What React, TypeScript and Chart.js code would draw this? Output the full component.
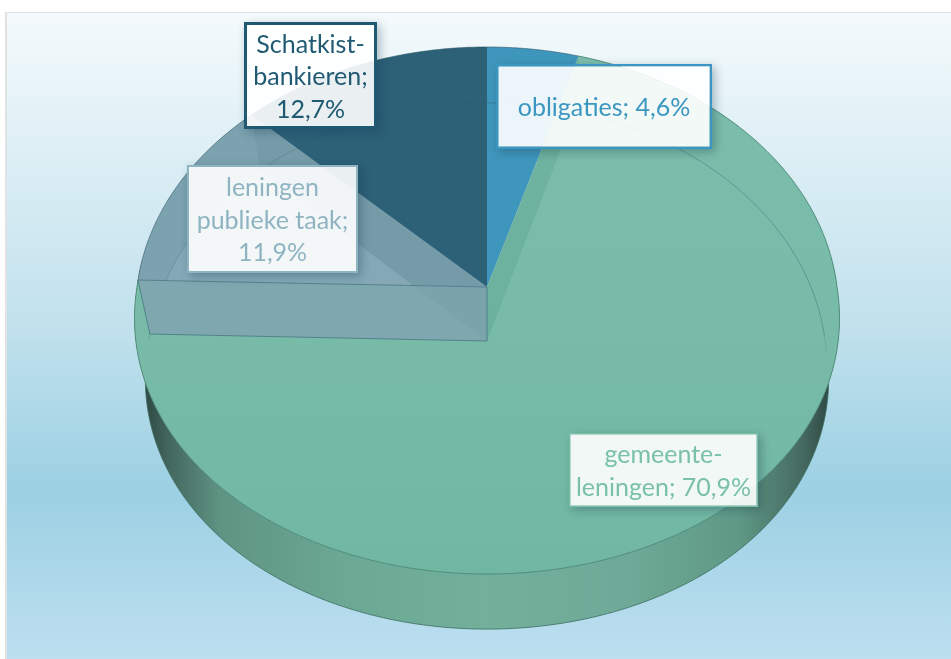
import React, { useEffect, useRef } from "react";
import { Chart, registerables } from "chart.js";

Chart.register(...registerables);

const categories = ["obligaties", "gemeenteleningen", "leningen publieke taak", "Schatkistbankieren"];
const values = [4.6, 70.9, 11.9, 12.7];
const sliceColors = ["#3f96bc", "#79bba8", "#7ca1af", "#2c6178"];
const labelLines = [
  ["obligaties; 4,6%"],
  ["gemeente-", "leningen; 70,9%"],
  ["leningen", "publieke taak;", "11,9%"],
  ["Schatkist-", "bankieren;", "12,7%"],
];
const labelColors = ["#3b97c1", "#7ac0aa", "#8fb4c1", "#1f5a72"];
const labelBoxes = [
  [497, 65, 214, 83],
  [570, 434, 187, 72],
  [188, 166, 169, 106],
  [245, 23, 131, 105],
];
const labelBorders = [2.5, 1.5, 2, 3];

type Face = { c: number; a: number; b: number; dy: number; k: number };
const TOP: Face = { c: 1, a: 0.747, b: -0.0892, dy: 0, k: 0.03 };
const BOTTOM: Face = { c: 0.966, a: 0.745, b: -0.095, dy: 54, k: 0.05 };

const piePlugin = {
  id: "pie3d",
  beforeDraw(chart: any) {
    const { ctx, width, height } = chart;
    ctx.save();
    ctx.fillStyle = "#ffffff";
    ctx.fillRect(0, 0, width, height);
    ctx.fillStyle = "#e2e2e2";
    ctx.fillRect(5, 12, width - 5, 1);
    ctx.fillRect(5, 12, 2, height - 12);
    const g = ctx.createLinearGradient(0, 13, 0, height);
    g.addColorStop(0, "#f4fafc");
    g.addColorStop(0.5, "#bfe0ec");
    g.addColorStop(0.74, "#9cd0e3");
    g.addColorStop(1, "#bddff0");
    ctx.fillStyle = g;
    ctx.fillRect(7, 13, width - 7, height - 13);
    ctx.restore();
  },
  beforeDatasetsDraw(chart: any) {
    const { ctx } = chart;
    const arcs = chart.getDatasetMeta(0).data;
    const cx = arcs[0].x;
    const cy = arcs[0].y;
    const R = arcs[0].outerRadius;
    const pt = (f: Face, ang: number): [number, number] => {
      const u = Math.cos(ang);
      const v = Math.sin(ang);
      const w = 1 + f.b * v;
      const bulge = 1 + f.k * Math.max(0, v);
      return [cx + (f.c * R * u * bulge) / w, cy + f.dy + (f.a * R * v) / w];
    };
    const arcPts = (f: Face, a0: number, a1: number) => {
      const out: [number, number][] = [];
      const n = Math.max(2, Math.ceil(Math.abs(a1 - a0) / 0.01));
      for (let i = 0; i <= n; i++) out.push(pt(f, a0 + ((a1 - a0) * i) / n));
      return out;
    };
    const trace = (pts: [number, number][], close = true) => {
      ctx.beginPath();
      pts.forEach((p, i) => (i ? ctx.lineTo(p[0], p[1]) : ctx.moveTo(p[0], p[1])));
      if (close) ctx.closePath();
    };
    const centre = (f: Face): [number, number] => [cx, cy + f.dy];
    const wedge = (f: Face, a0: number, a1: number) => [centre(f), ...arcPts(f, a0, a1)] as [number, number][];
    const full = Math.PI * 2;

    ctx.save();

    // Front wall, only where it lies outside the top face
    ctx.save();
    ctx.beginPath();
    ctx.rect(0, 0, chart.width, chart.height);
    arcPts(TOP, 0, full).forEach((p, i) => (i ? ctx.lineTo(p[0], p[1]) : ctx.moveTo(p[0], p[1])));
    ctx.closePath();
    ctx.clip("evenodd");
    const wall = [...arcPts(TOP, -0.1, Math.PI + 0.1), ...arcPts(BOTTOM, Math.PI + 0.1, -0.1)];
    const wg = ctx.createLinearGradient(cx - R, 0, cx + R, 0);
    wg.addColorStop(0.01, "#2f4843");
    wg.addColorStop(0.05, "#456a60");
    wg.addColorStop(0.12, "#5f9483");
    wg.addColorStop(0.3, "#6ca995");
    wg.addColorStop(0.5, "#73b09c");
    wg.addColorStop(0.7, "#6eaa97");
    wg.addColorStop(0.86, "#5f9986");
    wg.addColorStop(0.95, "#456a60");
    wg.addColorStop(0.99, "#2f4843");
    trace(wall);
    ctx.fillStyle = wg;
    ctx.fill();
    trace(arcPts(BOTTOM, -0.1, Math.PI + 0.1), false);
    ctx.strokeStyle = "rgba(60,110,95,0.8)";
    ctx.lineWidth = 1;
    ctx.stroke();
    ctx.restore();

    // Top faces
    arcs.forEach((arc: any) => {
      trace(wedge(TOP, arc.startAngle, arc.endAngle));
      ctx.fillStyle = arc.options.backgroundColor;
      ctx.fill();
    });
    // slightly deeper front of the large slice
    const big = arcs[1];
    ctx.save();
    trace(wedge(TOP, big.startAngle, big.endAngle));
    ctx.clip();
    const tg = ctx.createLinearGradient(0, cy - 240, 0, cy + 290);
    tg.addColorStop(0, "rgba(130,195,178,0.25)");
    tg.addColorStop(1, "rgba(105,180,158,0.55)");
    ctx.fillStyle = tg;
    ctx.fillRect(0, 0, chart.width, chart.height);
    // radial wall seen through the top of the large slice
    const w0 = [centre(TOP), pt(TOP, big.startAngle), pt(BOTTOM, big.startAngle), centre(BOTTOM)] as [number, number][];
    trace(w0);
    ctx.fillStyle = "rgba(70,145,122,0.22)";
    ctx.fill();
    ctx.restore();

    // Inner structure of the "leningen" slice, seen through its top
    const len = arcs[2];
    ctx.save();
    trace(wedge(TOP, len.startAngle, len.endAngle));
    ctx.clip();
    trace(wedge(BOTTOM, len.startAngle, len.endAngle));
    ctx.fillStyle = "rgba(165,200,208,0.2)";
    ctx.fill();
    trace([pt(TOP, len.endAngle), pt(BOTTOM, len.endAngle), centre(BOTTOM), centre(TOP)]);
    ctx.fillStyle = "rgba(70,115,135,0.12)";
    ctx.fill();
    ctx.restore();

    // Faint outline of the bottom face, seen through everything
    trace(arcPts(BOTTOM, len.startAngle - 0.02, full - 0.02), false);
    ctx.strokeStyle = "rgba(40,85,95,0.22)";
    ctx.lineWidth = 1;
    ctx.stroke();
    trace(arcPts(BOTTOM, -Math.PI / 2, 0.04), false);
    ctx.strokeStyle = "rgba(40,90,95,0.15)";
    ctx.stroke();

    // Radial wall of the "leningen" slice facing the viewer
    const wallPts = [centre(TOP), pt(TOP, len.startAngle), pt(BOTTOM, len.startAngle), centre(BOTTOM)] as [number, number][];
    trace(wallPts);
    ctx.fillStyle = "rgba(127,166,175,0.97)";
    ctx.fill();
    ctx.strokeStyle = "rgba(70,115,130,0.75)";
    ctx.lineWidth = 1;
    ctx.stroke();
    // its other wall shows faintly through this one
    ctx.save();
    trace(wallPts);
    ctx.clip();
    trace([centre(TOP), pt(TOP, len.endAngle), pt(BOTTOM, len.endAngle), centre(BOTTOM)]);
    ctx.fillStyle = "rgba(80,125,145,0.1)";
    ctx.fill();
    ctx.restore();

    // Slice edges
    arcs.forEach((arc: any, i: number) => {
      trace(arcPts(TOP, arc.startAngle, arc.endAngle), false);
      ctx.strokeStyle = i === 1 ? "rgba(70,130,112,0.85)" : "rgba(40,80,95,0.55)";
      ctx.lineWidth = 1;
      ctx.stroke();
    });

    ctx.restore();
    return false;
  },
  afterDraw(chart: any) {
    const { ctx } = chart;
    ctx.save();
    labelLines.forEach((lines, i) => {
      const [x, y, w, h] = labelBoxes[i];
      const col = labelColors[i];
      const bw = labelBorders[i];
      // shadow and border only outside the inner area, so the panel stays see-through
      ctx.save();
      ctx.beginPath();
      ctx.rect(0, 0, chart.width, chart.height);
      ctx.rect(x - 1 + bw, y - 1 + bw, w + 2 - 2 * bw, h + 2 - 2 * bw);
      ctx.clip("evenodd");
      ctx.shadowColor = "rgba(20,50,70,0.32)";
      ctx.shadowBlur = 9;
      ctx.shadowOffsetX = 3;
      ctx.shadowOffsetY = 3;
      ctx.fillStyle = col;
      ctx.fillRect(x - 1, y - 1, w + 2, h + 2);
      ctx.restore();
      ctx.fillStyle = "rgba(255,255,255,0.9)";
      ctx.fillRect(x - 1 + bw, y - 1 + bw, w + 2 - 2 * bw, h + 2 - 2 * bw);
      ctx.fillStyle = col;
      ctx.font = "25px Lato";
      ctx.textAlign = "center";
      ctx.textBaseline = "middle";
      const lh = 32.5;
      const cy = y + h / 2 + 1.5;
      lines.forEach((t, k) => {
        ctx.fillText(t, x + w / 2, cy + (k - (lines.length - 1) / 2) * lh);
      });
    });
    ctx.restore();
  },
};

export default function App() {
  const ref = useRef<HTMLCanvasElement>(null);
  useEffect(() => {
    document.body.style.margin = "0";
    document.body.style.overflow = "hidden";
    const chart = new Chart(ref.current as HTMLCanvasElement, {
      type: "pie",
      data: {
        labels: categories,
        datasets: [{ data: values, backgroundColor: sliceColors, borderWidth: 0 }],
      },
      options: {
        animation: false,
        responsive: false,
        radius: 350,
        rotation: 0,
        layout: { padding: { left: 23, bottom: 85 } },
        plugins: { legend: { display: false }, tooltip: { enabled: false } },
      } as any,
      plugins: [piePlugin as any],
    });
    return () => chart.destroy();
  }, []);
  return <canvas ref={ref} width={951} height={659} style={{ display: "block", width: 951, height: 659 }} />;
}
